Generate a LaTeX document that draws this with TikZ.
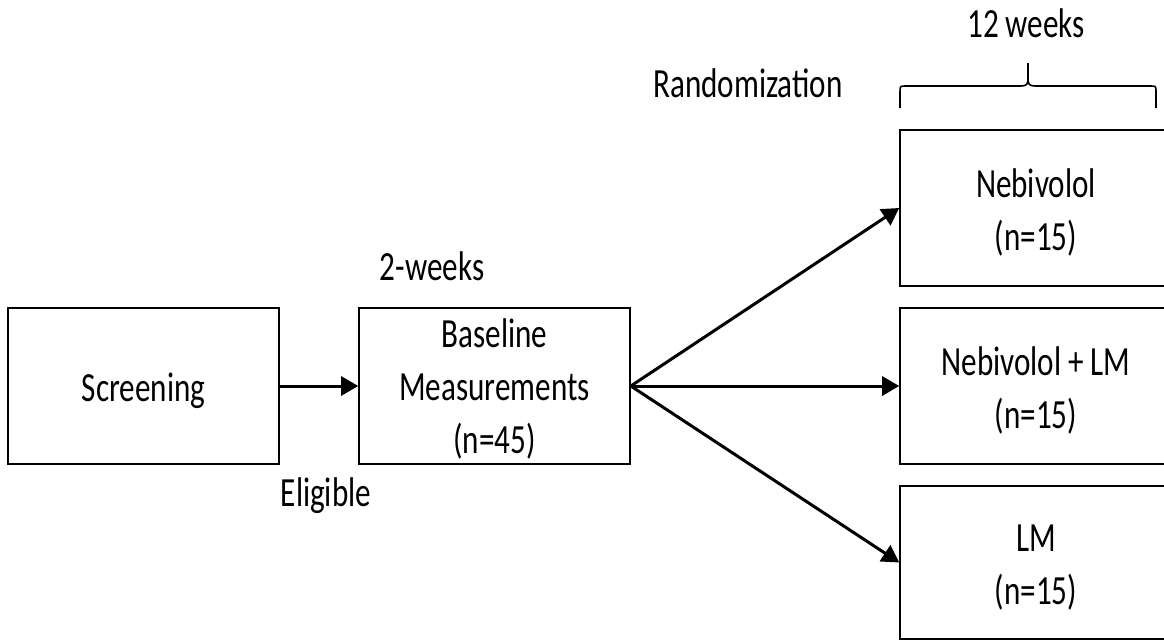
\documentclass[tikz,border=0pt]{standalone}
\usepackage{fontspec}
\setmainfont{Carlito}[FakeStretch=0.75]
\usetikzlibrary{arrows.meta}
\begin{document}
\begin{tikzpicture}[x=1pt,y=-1pt,
  box/.style={draw, line width=1.6pt, minimum width=271pt, minimum height=156pt,
    inner sep=0pt, align=center, font=\fontsize{41.5}{53}\selectfont, text depth=9pt},
  oneline/.style={text height=39pt},
  twoline/.style={text height=93pt},
  threeline/.style={text height=143pt},
  conn/.style={line width=3pt, -{Triangle[length=17pt,width=19pt]}},
  lbl/.style={anchor=base, inner sep=0pt, font=\fontsize{41.5}{53}\selectfont},
  bracepath/.style={line width=1.6pt}]
\useasboundingbox (0,0) rectangle (1164,641);
\clip (0,0) rectangle (1164,641);
\node[box, oneline] (scr) at (143.5,386) {Screening};
\node[box, threeline] (bas) at (494.5,386) {Baseline\\Measurements\\(n=45)};
\node[box, twoline, minimum width=272pt] (neb) at (1036,208) {Nebivolol\\(n=15)};
\node[box, twoline, minimum width=272pt] (nlm) at (1036,386) {Nebivolol + LM\\(n=15)};
\node[box, twoline, minimum width=272pt, minimum height=153pt] (lm) at (1036,562.5) {LM\\(n=15)};
\node[lbl] (twelve) at (1026,37) {12 weeks};
\node[lbl] (rand) at (748,97) {Randomization};
\node[lbl] (two) at (432,280) {2-weeks};
\node[lbl] (elig) at (326,506) {Eligible};
\draw[conn] (scr.east) -- (bas.west);
\draw[conn] (bas.east) -- (neb.west);
\draw[conn] (bas.east) -- (nlm.west);
\draw[conn] (bas.east) -- (lm.west);
\draw[bracepath] (900,108) -- (900,92) .. controls (900,86) .. (906,86) -- (1021,86)
  .. controls (1027,86) and (1028,84) .. (1028,78) -- (1028,63);
\draw[bracepath] (1156,108) -- (1156,92) .. controls (1156,86) .. (1150,86) -- (1035,86)
  .. controls (1029,86) and (1028,84) .. (1028,78);
\end{tikzpicture}
\end{document}
